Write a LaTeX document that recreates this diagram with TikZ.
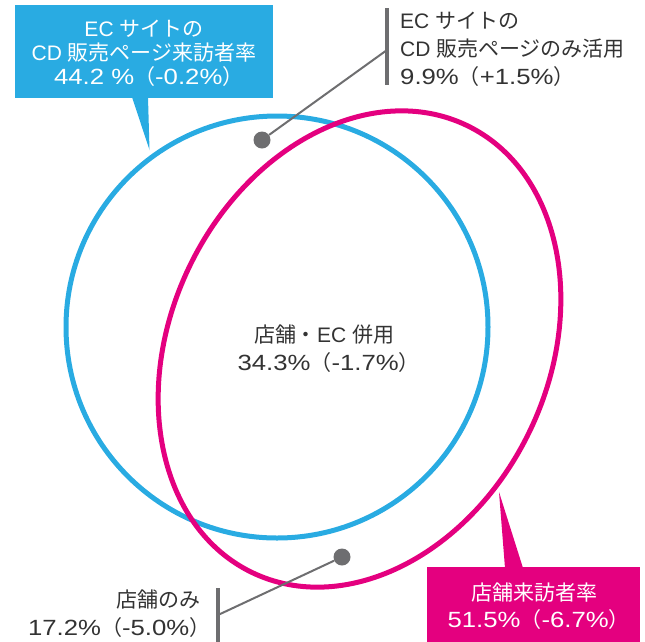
\documentclass[tikz,border=0pt]{standalone}
\usepackage{fontspec}
\setmainfont{Liberation Sans}
\newfontfamily\jp{Noto Sans CJK JP}
\newfontfamily\numf{Liberation Sans}[FakeStretch=1.17]
\newcommand{\numline}[2]{{\numf\fontsize{22}{22}\selectfont #1}{\jp （}{\numf\fontsize{22}{22}\selectfont #2}{\jp ）}\kern-0.45em}
\newcommand{\fixlines}{\lineskiplimit=-100pt\relax}
\definecolor{ecblue}{HTML}{29ABE2}
\definecolor{shopmag}{HTML}{E4007F}
\definecolor{leadgray}{HTML}{6E6E70}
\definecolor{txt}{HTML}{333333}
\begin{document}
\begin{tikzpicture}[x=1pt,y=1pt,
  ring/.style={line width=5pt},
  lead/.style={draw=leadgray, line width=2pt},
  dotmark/.style={circle, fill=leadgray, minimum size=17pt, inner sep=0pt},
  barline/.style={draw=leadgray, line width=4.5pt},
  lbl/.style={text=txt, font={\fontsize{21}{28}\selectfont\fixlines}, inner sep=0pt},
  boxlbl/.style={text=white, inner sep=0pt, align=center}
]
\useasboundingbox (0,0) rectangle (645,-641);
% circles
\draw[ring, ecblue] (277,-327) circle [radius=211];
\draw[ring, shopmag] (359.5,-349) ellipse [x radius=248, y radius=189, rotate=64.4];
% blue callout
\node[fill=ecblue, minimum width=258pt, minimum height=93pt, inner sep=0pt] (ecbox) at (144,-51.5) {};
\fill[ecblue] (132,-97) -- (149.5,-150) -- (148,-97) -- cycle;
\node[boxlbl, font={\fontsize{21}{24}\selectfont\fixlines}] (ectext) at (144,-53.5)
  {EC {\jp サイトの}\\CD {\jp 販売ページ来訪者率}\\\numline{44.2 \%}{-0.2\%}};
% magenta callout
\node[fill=shopmag, minimum width=213pt, minimum height=76pt, inner sep=0pt] (shopbox) at (533.5,-605) {};
\fill[shopmag] (499,-492) -- (505,-568) -- (523,-568) -- cycle;
\node[boxlbl, font={\fontsize{21}{27}\selectfont\fixlines}] (shoptext) at (534,-606.5)
  {{\jp 店舗来訪者率}\\\numline{51.5\%}{-6.7\%}};
% centre label
\node[lbl, align=center] (both) at (324,-349)
  {{\jp 店舗・}EC {\jp 併用}\\\numline{34.3\%}{-1.7\%}};
% upper-right leader
\coordinate (barAtop) at (387,-8);
\coordinate (barAbot) at (387,-85);
\coordinate (barA) at (387,-50);
\draw[barline] (barAtop) -- (barAbot);
\node[dotmark] (dotA) at (262,-140) {};
\draw[lead] (dotA) -- (barA);
\node[lbl, align=left, anchor=west] (ecOnly) at (400,-49)
  {EC {\jp サイトの}\\CD {\jp 販売ページのみ活用}\\\numline{9.9\%}{+1.5\%}};
% lower-left leader
\coordinate (barBtop) at (218,-588);
\coordinate (barBbot) at (218,-645);
\coordinate (barB) at (218,-615);
\draw[barline] (barBtop) -- (barBbot);
\node[dotmark] (dotB) at (342,-557) {};
\draw[lead] (dotB) -- (barB);
\node[lbl, align=right, anchor=east] (shopOnly) at (201,-614)
  {{\jp 店舗のみ}\\\numline{17.2\%}{-5.0\%}};
\end{tikzpicture}
\end{document}
